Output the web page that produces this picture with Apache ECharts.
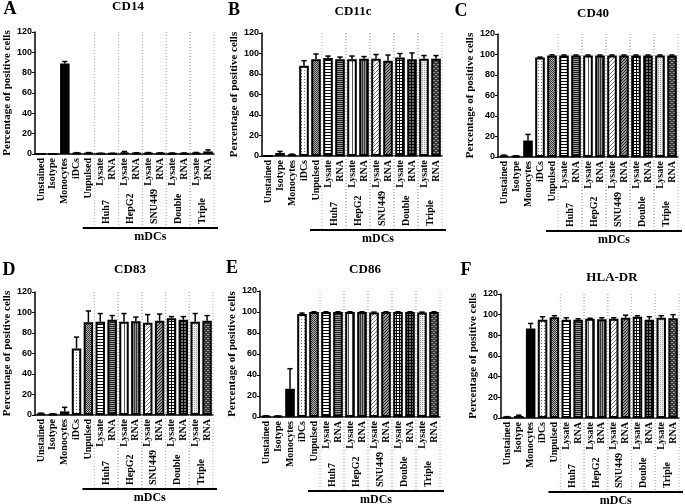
<!DOCTYPE html>
<html><head><meta charset="utf-8">
<script src="https://cdn.jsdelivr.net/npm/echarts@6/dist/echarts.min.js"></script>
<style>html,body{margin:0;padding:0;background:#fff}#c{width:685px;height:504px}</style>
</head><body><div id="c"></div>
<script>
// ---------- data ----------
const categoryKeys = ['Unstained','Isotype','Monocytes','iDCs','Unpulsed','Huh7 Lysate','Huh7 RNA','HepG2 Lysate','HepG2 RNA','SNU449 Lysate','SNU449 RNA','Double Lysate','Double RNA','Triple Lysate','Triple RNA'];
const categoryLabels = ['Unstained','Isotype','Monocytes','iDCs','Unpulsed','Lysate','RNA','Lysate','RNA','Lysate','RNA','Lysate','RNA','Lysate','RNA'];
const groupNames = ['Huh7','HepG2','SNU449','Double','Triple'];
const groupSpans = [[5,6],[7,8],[9,10],[11,12],[13,14]];
const mdcSpan = [[4,14]];
const mdcLabel = 'mDCs';
const yAxisName = 'Percentage of positive cells';
const panelTitles = ['CD14','CD11c','CD40','CD83','CD86','HLA-DR'];
const panelLetters = ['A','B','C','D','E','F'];

const cd14     = [0, 0, 89, 1, 1, 0.5, 0.5, 1.5, 0.8, 1, 0.8, 0.7, 0.7, 1, 2.5];
const cd14Err  = [0, 0, 2, 0.3, 0.4, 0.2, 0.2, 1, 0.3, 0.4, 0.3, 0.3, 0.3, 0.5, 1.5];
const cd11c    = [0, 3, 1.5, 88, 94.5, 95.5, 94.5, 94.5, 95, 95, 93, 96, 94.5, 95, 95];
const cd11cErr = [0, 1.5, 0.3, 5, 5, 2, 2, 3, 2, 4, 5.5, 4, 6, 3, 3];
const cd40     = [1.5, 1, 16, 97, 99, 99, 99, 99, 99, 99, 99, 99, 99, 99, 99];
const cd40Err  = [0.3, 0.2, 6, 0.5, 0.6, 0.5, 0.5, 0.5, 0.5, 0.5, 0.5, 0.5, 0.5, 0.5, 0.5];
const cd83     = [1.5, 1, 3.5, 65, 90.5, 91, 93, 91, 91.5, 90, 92, 94.5, 93, 91, 92];
const cd83Err  = [0.3, 0.2, 4, 11, 11, 8, 4, 8, 4, 8, 6.5, 1.5, 3, 8, 5];
const cd86     = [1, 0.8, 27, 98, 100, 100, 100, 100, 100, 99.5, 100, 100, 100, 99.5, 100];
const cd86Err  = [0.2, 0.2, 19, 1, 0.2, 0.2, 0.2, 0.2, 0.2, 0.4, 0.2, 0.2, 0.2, 0.4, 0.2];
const hladr    = [1, 2, 86.5, 95, 97.5, 95, 95, 96, 95.5, 96, 97, 98, 95, 97, 96.5];
const hladrErr = [0.3, 0.7, 5, 3, 1.5, 2, 1, 0.5, 1.5, 1, 2.5, 1, 3, 2, 3.5];

// ---------- styles ----------
function tile(w, h, bg, fg, cells) {
  const c = document.createElement('canvas'); c.width = w; c.height = h;
  const g = c.getContext('2d'); g.fillStyle = bg; g.fillRect(0, 0, w, h);
  g.fillStyle = fg; cells.forEach(([x, y]) => g.fillRect(x, y, 1, 1));
  return { image: c, repeat: 'repeat' };
}
const fills = [
  '#ffffff', '#ffffff', '#000000',
  tile(3, 3, '#ffffff', '#777777', [[1, 1]]),
  tile(2, 2, '#b5b5b5', '#333333', [[0, 0], [1, 1]]),
  tile(1, 3, '#ffffff', '#000000', [[0, 0]]),
  tile(1, 2, '#9a9a9a', '#222222', [[0, 0]]),
  tile(4, 1, '#ffffff', '#555555', [[0, 0]]),
  tile(2, 1, '#9a9a9a', '#333333', [[0, 0]]),
  tile(4, 4, '#ffffff', '#777777', [[3, 0], [2, 1], [1, 2], [0, 3]]),
  tile(3, 3, '#999999', '#222222', [[2, 0], [1, 1], [0, 2]]),
  tile(3, 3, '#ffffff', '#000000', [[0, 0], [1, 0], [2, 0], [0, 1], [0, 2]]),
  tile(3, 3, '#777777', '#000000', [[0, 0], [1, 0], [2, 0], [0, 1], [0, 2]]),
  tile(2, 2, '#eeeeee', '#999999', [[0, 0]]),
  tile(4, 4, '#3a3a3a', '#999999', [[1, 0], [2, 0], [0, 2], [3, 2]])
];

const panels = [
  { values: cd14,  errs: cd14Err,  grid: { left: 35,  top: 32,  width: 179, height: 122 }, t: [128, 7],  l: [10, 9] },
  { values: cd11c, errs: cd11cErr, grid: { left: 262, top: 33,  width: 180, height: 123 }, t: [353, 12], l: [234, 10] },
  { values: cd40,  errs: cd40Err,  grid: { left: 498, top: 34,  width: 180, height: 123 }, t: [593, 14], l: [461, 11] },
  { values: cd83,  errs: cd83Err,  grid: { left: 35,  top: 292, width: 178, height: 123 }, t: [130, 270], l: [9, 270] },
  { values: cd86,  errs: cd86Err,  grid: { left: 260, top: 291, width: 180, height: 126 }, t: [365, 270], l: [232, 268] },
  { values: hladr, errs: hladrErr, grid: { left: 501, top: 294, width: 178, height: 124 }, t: [612, 278], l: [466, 270] }
];

const SERIF = '"Liberation Serif", "Times New Roman", serif';
const SANS = '"Liberation Sans", Arial, sans-serif';

function errRender(params, api) {
  const i = api.value(0), v = api.value(1), e = api.value(2);
  if (!(e > 0)) return null;
  const p0 = api.coord([i, v]), p1 = api.coord([i, v + e]);
  const bw = api.size([1, 0])[0];
  const cw = bw * 0.22;
  return { type: 'group', children: [
    { type: 'line', shape: { x1: p0[0], y1: p0[1], x2: p1[0], y2: p1[1] }, style: { stroke: '#000', lineWidth: 1.5 } },
    { type: 'line', shape: { x1: p1[0] - cw, y1: p1[1], x2: p1[0] + cw, y2: p1[1] }, style: { stroke: '#000', lineWidth: 1.5 } }
  ]};
}
function groupRender(params, api) {
  const s = api.value(0), e = api.value(1);
  const c0 = api.coord([s, 0]), c1 = api.coord([e, 0]);
  const top = api.coord([s, 120])[1];
  const bw = api.size([1, 0])[0];
  const xl = c0[0] - bw / 2, xr = c1[0] + bw / 2, xm = (c0[0] + c1[0]) / 2;
  const yb = c0[1];
  const dot = { stroke: '#b0b0b0', lineWidth: 1, lineDash: [1, 2] };
  return { type: 'group', children: [
    { type: 'line', shape: { x1: xl, y1: top, x2: xl, y2: yb + 74 }, style: dot, z2: -1 },
    { type: 'line', shape: { x1: xr, y1: top, x2: xr, y2: yb + 74 }, style: dot, z2: -1 },
    { type: 'text', x: xm, y: yb + 70, rotation: Math.PI / 2,
      style: { text: groupNames[params.dataIndex], fill: '#000', font: 'bold 10px ' + SERIF,
               align: 'left', textAlign: 'left', verticalAlign: 'middle', textVerticalAlign: 'middle' } }
  ]};
}
function mdcRender(params, api) {
  const s = api.value(0), e = api.value(1);
  const c0 = api.coord([s, 0]), c1 = api.coord([e, 0]);
  const bw = api.size([1, 0])[0];
  const xl = c0[0] - bw / 2, xr = c1[0] + bw / 2 + 4;
  const y = c0[1] + 74;
  return { type: 'group', children: [
    { type: 'line', shape: { x1: xl, y1: y, x2: xr, y2: y }, style: { stroke: '#000', lineWidth: 2 } },
    { type: 'text', x: (xl + xr) / 2, y: y + 9,
      style: { text: mdcLabel, fill: '#000', font: 'bold 12px ' + SERIF,
               align: 'center', textAlign: 'center', verticalAlign: 'middle', textVerticalAlign: 'middle' } }
  ]};
}

const option = { animation: false, backgroundColor: '#fff', grid: [], xAxis: [], yAxis: [], series: [], graphic: [] };
panels.forEach((p, k) => {
  option.grid.push(Object.assign({}, p.grid));
  option.xAxis.push({
    type: 'category', gridIndex: k, data: categoryKeys, boundaryGap: true,
    axisLine: { lineStyle: { color: '#000', width: 1.5 } },
    axisTick: { alignWithLabel: true, length: 3, lineStyle: { color: '#000', width: 1 } },
    axisLabel: { interval: 0, rotate: 90, margin: 4, fontFamily: SERIF, fontWeight: 'bold', fontSize: 10, color: '#000',
                 formatter: (v, i) => categoryLabels[i] },
    splitLine: { show: false }
  });
  option.yAxis.push({
    type: 'value', gridIndex: k, min: 0, max: 120, interval: 20,
    name: yAxisName, nameLocation: 'middle', nameGap: 18,
    nameTextStyle: { fontFamily: SERIF, fontWeight: 'bold', fontSize: 11, color: '#000' },
    axisLine: { show: true, lineStyle: { color: '#000', width: 1.5 } },
    axisTick: { show: true, length: 3, lineStyle: { color: '#000', width: 1 } },
    axisLabel: { margin: 3, fontFamily: SANS, fontWeight: 'bold', fontSize: 9, color: '#000' },
    splitLine: { show: false }
  });
  option.series.push({
    type: 'bar', xAxisIndex: k, yAxisIndex: k, barWidth: '80%', z: 2,
    itemStyle: { borderColor: '#000', borderWidth: 2 },
    data: p.values.map((v, i) => ({ value: v, itemStyle: { color: fills[i] } }))
  });
  option.series.push({
    type: 'custom', xAxisIndex: k, yAxisIndex: k, z: 3, clip: false, silent: true,
    data: p.values.map((v, i) => [i, v, p.errs[i]]), renderItem: errRender
  });
  option.series.push({
    type: 'custom', xAxisIndex: k, yAxisIndex: k, z: 1, clip: false, silent: true,
    data: groupSpans, renderItem: groupRender
  });
  option.series.push({
    type: 'custom', xAxisIndex: k, yAxisIndex: k, z: 1, clip: false, silent: true,
    data: mdcSpan, renderItem: mdcRender
  });
  option.graphic.push({ type: 'text', x: p.t[0], y: p.t[1],
    style: { text: panelTitles[k], fill: '#000', font: 'bold 13px ' + SERIF, align: 'center', textAlign: 'center', verticalAlign: 'middle', textVerticalAlign: 'middle' } });
  option.graphic.push({ type: 'text', x: p.l[0], y: p.l[1],
    style: { text: panelLetters[k], fill: '#000', font: 'bold 18px ' + SERIF, align: 'center', textAlign: 'center', verticalAlign: 'middle', textVerticalAlign: 'middle' } });
});

const chart = echarts.init(document.getElementById('c'));
chart.setOption(option);
</script>
</body></html>
